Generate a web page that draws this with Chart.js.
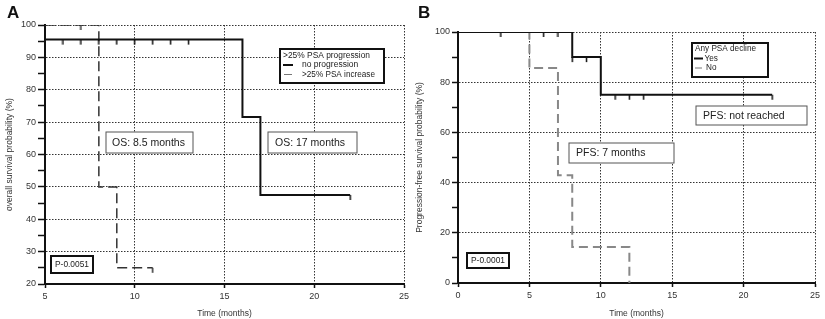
<!DOCTYPE html>
<html>
<head>
<meta charset="utf-8">
<script src="https://cdn.jsdelivr.net/npm/chart.js@4/dist/chart.umd.min.js"></script>
<style>
  body { margin: 0; background: #fff; }
  #wrap { position: relative; width: 825px; height: 319px; background: #fff; }
  canvas { position: absolute; top: 0; }
</style>
</head>
<body>
<div id="wrap">
  <canvas id="os" width="410" height="319" style="left:0"></canvas>
  <canvas id="pfs" width="415" height="319" style="left:410px"></canvas>
</div>
<script>
// --- panel A: overall survival by >25% PSA progression ---
const osNoProgTime = [5, 16, 17, 22]
const osNoProgSurv = [95.5, 71.6, 47.5, 47.5]
const osNoProgCensorTime = [6, 7, 8, 9, 10, 11, 12, 13, 22]
const osNoProgCensorSurv = [95.5, 95.5, 95.5, 95.5, 95.5, 95.5, 95.5, 95.5, 47.5]
const osIncTime = [5, 8, 9, 11]
const osIncSurv = [100, 50, 25, 25]
const osIncCensorTime = [7, 11]
const osIncCensorSurv = [100, 25]

// --- panel B: progression-free survival by any PSA decline ---
const pfsYesTime = [0, 8, 10, 22]
const pfsYesSurv = [100, 90, 75, 75]
const pfsYesCensorTime = [3, 6, 7, 8, 9, 11, 12, 13, 22]
const pfsYesCensorSurv = [100, 100, 100, 90, 90, 75, 75, 75, 75]
const pfsNoTime = [0, 5, 7, 8, 12]
const pfsNoSurv = [100, 85.7, 42.9, 14.3, 0]

const FONT = 'Liberation Sans, Arial, sans-serif'

const pts = (xs, ys) => xs.map((x, i) => ({ x, y: ys[i] }))

// little downward tick used for censored observations
function censorMark(color) {
    const c = document.createElement('canvas')
    c.width = 3
    c.height = 12
    const g = c.getContext('2d')
    g.fillStyle = color
    g.fillRect(0.75, 6, 1.5, 5)
    return c
}

// text boxes, legend boxes and panel letters
const notes = {
    id: 'notes',
    afterDraw(chart, args, opts) {
        const ctx = chart.ctx
        ctx.save()
        for (const b of opts.boxes || []) {
            ctx.fillStyle = '#fff'
            ctx.fillRect(b.x, b.y, b.w, b.h)
            ctx.lineWidth = b.border
            ctx.strokeStyle = b.border > 1 ? '#111' : '#555'
            ctx.strokeRect(b.x, b.y, b.w, b.h)
            for (const t of b.lines) {
                if (t.line) {
                    ctx.beginPath()
                    ctx.lineWidth = t.line.w
                    ctx.strokeStyle = t.line.c
                    ctx.moveTo(t.line.x0, t.y)
                    ctx.lineTo(t.line.x1, t.y)
                    ctx.stroke()
                }
                ctx.fillStyle = '#222'
                ctx.font = t.size + 'px ' + FONT
                ctx.textBaseline = 'middle'
                ctx.textAlign = 'left'
                ctx.fillText(t.text, t.x, t.y, t.max)
            }
        }
        if (opts.letter) {
            ctx.fillStyle = '#111'
            ctx.font = 'bold 17px ' + FONT
            ctx.textBaseline = 'alphabetic'
            ctx.fillText(opts.letter.text, opts.letter.x, opts.letter.y)
        }
        ctx.restore()
    }
}

function axes(xmin, xmax, ymin, ymax, ystep, ylabelEvery, ytitle, yWidth, xHeight, yTick) {
    const tickFont = { family: FONT, size: 9 }
    const titleFont = { family: FONT, size: 8.5 }
    return {
        x: {
            type: 'linear',
            min: xmin,
            max: xmax,
            ticks: { stepSize: 5, font: tickFont, color: '#333', padding: 3, maxRotation: 0 },
            grid: { color: '#333', lineWidth: 1, tickLength: 4, tickColor: '#111', tickWidth: 1.5 },
            border: { display: true, color: '#111', width: 2, dash: [1.5, 1.5] },
            title: { display: true, text: 'Time (months)', font: titleFont, color: '#333', padding: { top: 3, bottom: 0 } },
            afterFit(scale) {
                scale.height = xHeight
                scale.paddingLeft = 0
                scale.paddingRight = 0
            }
        },
        y: {
            type: 'linear',
            min: ymin,
            max: ymax,
            ticks: {
                stepSize: ystep,
                font: tickFont,
                color: '#333',
                padding: 2,
                callback: (v) => (v % ylabelEvery === 0 ? String(v) : '')
            },
            grid: {
                color: (c) => (c.tick && c.tick.value % ylabelEvery === 0 ? '#333' : 'rgba(0,0,0,0)'),
                lineWidth: 1,
                tickLength: yTick,
                tickColor: '#111',
                tickWidth: 1.5
            },
            border: { display: true, color: '#111', width: 2, dash: [1.5, 1.5] },
            title: { display: true, text: ytitle, font: titleFont, color: '#333', padding: { top: 5, bottom: 0 } },
            afterFit(scale) {
                scale.width = yWidth
                scale.paddingTop = 0
                scale.paddingBottom = 0
            }
        }
    }
}

const curve = (data, color, width, dash) => ({
    data,
    showLine: true,
    stepped: 'before',
    borderColor: color,
    borderWidth: width,
    borderDash: dash,
    pointRadius: 0,
    fill: false
})

const marks = (data, color) => ({
    data,
    showLine: false,
    pointStyle: censorMark(color),
    pointRadius: 4,
    borderColor: color,
    backgroundColor: color
})

new Chart(document.getElementById('os'), {
    type: 'scatter',
    data: {
        datasets: [
            curve(pts(osNoProgTime, osNoProgSurv), '#111', 2, []),
            marks(pts(osNoProgCensorTime, osNoProgCensorSurv), '#111'),
            curve(pts(osIncTime, osIncSurv), '#333', 1.5, [10, 5]),
            marks(pts(osIncCensorTime, osIncCensorSurv), '#333')
        ]
    },
    options: {
        responsive: false,
        animation: false,
        layout: { padding: { left: 0, top: 25, right: 6, bottom: 0 } },
        scales: axes(5, 25, 20, 100, 5, 10, 'overall survival probability (%)', 45, 35, 7),
        plugins: {
            legend: { display: false },
            tooltip: { enabled: false },
            notes: {
                letter: { text: 'A', x: 7, y: 18 },
                boxes: [
                    { x: 106, y: 132, w: 87, h: 21, border: 1,
                      lines: [{ text: 'OS: 8.5 months', x: 112, y: 143, size: 10.5, max: 73 }] },
                    { x: 268, y: 132, w: 89, h: 21, border: 1,
                      lines: [{ text: 'OS: 17 months', x: 275, y: 143, size: 10.5, max: 72 }] },
                    { x: 280, y: 49, w: 104, h: 34, border: 2,
                      lines: [
                          { text: '>25% PSA progression', x: 283, y: 56, size: 8.5, max: 87 },
                          { text: 'no progression', x: 302, y: 65, size: 8.5, max: 57,
                            line: { x0: 283, x1: 293, w: 2, c: '#111' } },
                          { text: '>25% PSA increase', x: 302, y: 74.5, size: 8.5, max: 73,
                            line: { x0: 284, x1: 292, w: 1, c: '#777' } }
                      ] },
                    { x: 51, y: 256, w: 42, h: 17, border: 2,
                      lines: [{ text: 'P-0.0051', x: 55, y: 265, size: 9, max: 34 }] }
                ]
            }
        }
    },
    plugins: [notes]
})

new Chart(document.getElementById('pfs'), {
    type: 'scatter',
    data: {
        datasets: [
            curve(pts(pfsYesTime, pfsYesSurv), '#111', 2, []),
            marks(pts(pfsYesCensorTime, pfsYesCensorSurv), '#111'),
            curve(pts(pfsNoTime, pfsNoSurv), '#888', 2, [9, 5])
        ]
    },
    options: {
        responsive: false,
        animation: false,
        layout: { padding: { left: 0, top: 32, right: 10, bottom: 0 } },
        scales: axes(0, 25, 0, 100, 10, 20, 'Progression-free survival probability (%)', 48, 36, 6),
        plugins: {
            legend: { display: false },
            tooltip: { enabled: false },
            notes: {
                letter: { text: 'B', x: 8, y: 18 },
                boxes: [
                    { x: 286, y: 106, w: 111, h: 19, border: 1,
                      lines: [{ text: 'PFS: not reached', x: 293, y: 116, size: 10.5, max: 82 }] },
                    { x: 159, y: 143, w: 105, h: 20, border: 1,
                      lines: [{ text: 'PFS: 7 months', x: 166, y: 153.5, size: 10.5, max: 71 }] },
                    { x: 282, y: 43, w: 76, h: 34, border: 2,
                      lines: [
                          { text: 'Any PSA decline', x: 285, y: 49, size: 8.2, max: 61 },
                          { text: 'Yes', x: 294.5, y: 58.5, size: 8.2, max: 14,
                            line: { x0: 284, x1: 293, w: 2, c: '#111' } },
                          { text: 'No', x: 296, y: 68, size: 8.2, max: 12,
                            line: { x0: 285, x1: 292, w: 1, c: '#777' } }
                      ] },
                    { x: 57, y: 253, w: 42, h: 15, border: 2,
                      lines: [{ text: 'P-0.0001', x: 61, y: 261, size: 9, max: 34 }] }
                ]
            }
        }
    },
    plugins: [notes]
})
</script>
</body>
</html>
